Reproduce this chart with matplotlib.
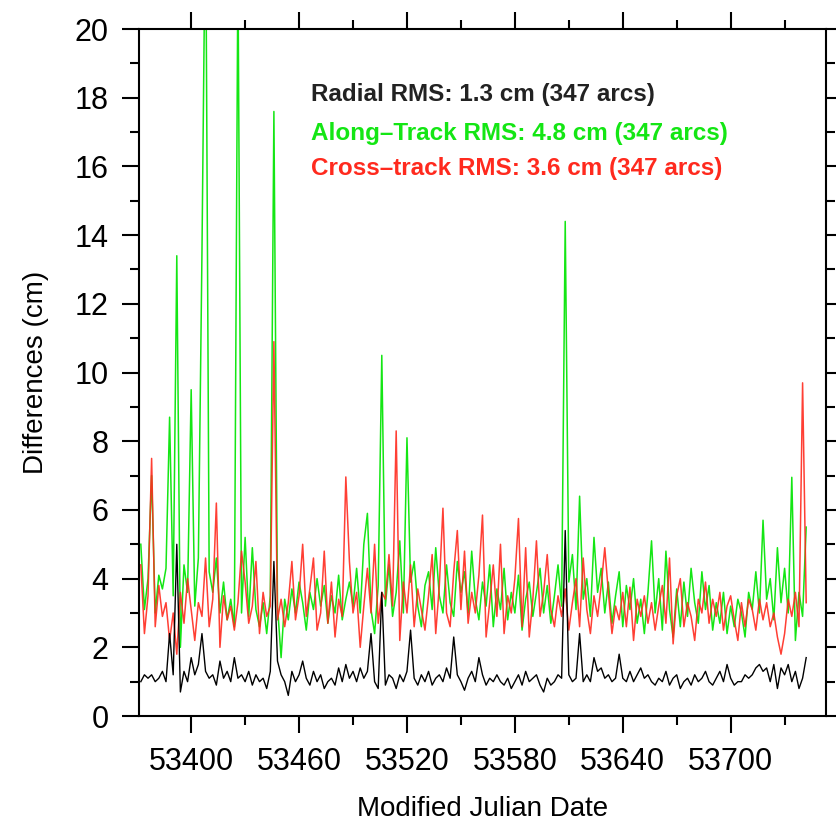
import numpy as np
import matplotlib
matplotlib.use("Agg")
from matplotlib import pyplot as plt
from matplotlib.ticker import MultipleLocator

plt.rcParams['font.family'] = ['Liberation Sans', 'DejaVu Sans']

# one value every 2 days, MJD 53372 ... 53742
mjd = np.arange(53372, 53744, 2)

along = [
    5.0, 3.1, 4.0, 7.0, 3.0, 4.1, 3.7, 4.3, 8.7, 3.5,
    13.4, 2.0, 4.4, 3.6, 9.5, 3.2, 4.6, 13.5, 24.0, 4.2,
    3.6, 4.6, 3.0, 3.9, 2.8, 3.4, 2.6, 22.0, 3.0, 5.2,
    2.9, 4.9, 3.1, 2.6, 3.3, 2.4, 3.5, 17.6, 3.2, 1.7,
    3.4, 2.8, 3.7, 3.0, 3.9, 3.3, 2.5, 3.6, 3.1, 4.0,
    3.2, 3.8, 2.7, 3.5, 3.0, 4.1, 2.8, 3.4, 3.9, 3.2,
    4.3, 3.0, 5.0, 5.9, 3.1, 2.4, 3.8, 10.5, 3.2, 4.4,
    2.9, 3.6, 5.1, 3.0, 8.1, 3.9, 4.5, 3.2, 2.6, 3.8,
    4.2, 3.1, 4.9, 3.5, 3.0, 4.4, 3.3, 2.9, 4.5, 3.6,
    4.2, 3.0, 4.8, 3.4, 2.8, 3.9, 3.2, 4.4, 2.6, 3.7,
    3.1, 4.3, 2.8, 3.6, 3.0, 4.1, 2.5, 3.4, 3.9, 2.9,
    3.6, 4.3, 3.0, 3.8, 2.7, 3.5, 4.4, 3.2, 14.4, 3.9,
    4.7, 3.1, 6.4, 3.4, 4.0, 2.9, 5.2, 3.6, 4.3, 3.0,
    3.9, 2.7, 3.5, 4.2, 2.6, 3.8, 3.1, 4.0, 2.7, 3.4,
    2.4, 3.6, 5.1, 3.0, 4.0, 2.5, 4.8, 3.1, 2.3, 3.7,
    2.6, 3.9, 2.9, 4.3, 3.3, 2.7, 4.2, 3.1, 3.8, 2.5,
    3.3, 2.7, 3.6, 2.4, 3.2, 2.6, 3.4, 3.0, 2.3, 3.6,
    3.1, 4.2, 3.0, 5.7, 3.4, 4.0, 2.8, 4.9, 3.3, 4.3,
    3.0, 6.95, 2.2, 3.6, 2.9, 5.5,
]

cross = [
    4.4, 2.4, 3.5, 7.5, 2.6, 3.8, 2.9, 3.3, 2.2, 3.0,
    1.8, 3.6, 2.7, 4.0, 3.1, 2.2, 3.3, 2.9, 4.6, 2.6,
    3.4, 6.2, 2.0, 3.5, 2.8, 3.2, 2.5, 3.3, 4.8, 3.9,
    2.7, 3.2, 4.5, 2.4, 3.6, 2.9, 3.2, 10.9, 2.8, 3.4,
    2.6, 3.3, 4.5, 2.8, 3.5, 5.0, 2.9, 3.7, 4.6, 2.5,
    3.0, 4.8, 2.7, 3.9, 2.3, 3.4, 2.9, 6.96, 4.5, 3.0,
    3.6, 2.0, 3.2, 4.3, 3.0, 5.0, 2.7, 3.6, 3.4, 4.7,
    3.2, 8.3, 2.2, 3.9, 3.0, 4.4, 2.6, 3.7, 3.1, 2.5,
    3.5, 4.7, 2.4, 3.8, 6.05, 3.0, 2.6, 4.2, 5.4, 3.1,
    4.8, 2.7, 3.6, 3.0, 4.1, 5.85, 2.3, 3.3, 4.4, 2.9,
    5.0, 2.4, 3.5, 3.0, 4.0, 5.75, 2.6, 4.9, 2.3, 3.4,
    5.1, 2.9, 3.6, 4.7, 3.1, 2.6, 3.5, 2.9, 3.7, 2.5,
    3.3, 4.0, 2.6, 4.6, 3.1, 2.4, 3.5, 2.9, 3.8, 4.9,
    3.6, 2.4, 3.2, 2.8, 3.6, 2.6, 3.75, 2.2, 3.4, 2.9,
    3.5, 2.7, 3.3, 2.5, 3.2, 3.8, 2.7, 4.6, 2.1, 3.5,
    4.0, 2.6, 3.3, 2.9, 2.2, 3.4, 3.0, 3.9, 2.7, 3.4,
    2.9, 3.6, 2.5, 3.2, 3.5, 2.8, 2.2, 3.3, 2.6, 3.4,
    3.1, 2.5, 3.4, 2.8, 3.3, 2.6, 3.0, 2.3, 1.8, 2.4,
    3.4, 2.9, 3.6, 2.6, 9.7, 3.3,
]

radial = [
    1.0, 1.2, 1.1, 1.2, 1.0, 1.1, 1.3, 1.0, 2.4, 1.2,
    5.0, 0.7, 1.3, 1.0, 1.7, 1.2, 1.5, 2.4, 1.3, 1.1,
    1.2, 0.9, 1.6, 1.1, 1.3, 1.0, 1.7, 1.1, 1.2, 1.0,
    1.3, 0.9, 1.2, 1.0, 1.1, 0.8, 1.3, 4.5, 1.6, 1.2,
    1.0, 0.6, 1.3, 1.0, 1.2, 1.6, 1.1, 0.9, 1.3, 1.0,
    1.2, 0.8, 1.0, 1.1, 0.9, 1.4, 1.0, 1.5, 1.1, 1.3,
    1.0, 1.4, 1.1, 1.3, 2.4, 1.0, 0.8, 3.6, 0.9, 1.2,
    1.1, 0.8, 1.2, 1.0, 1.3, 2.5, 1.1, 0.9, 1.2, 1.0,
    1.3, 0.9, 1.1, 1.2, 1.0, 1.4, 1.1, 2.3, 1.2, 1.0,
    0.75, 1.1, 1.3, 1.0, 1.7, 1.2, 0.9, 1.1, 1.0, 1.2,
    1.0, 0.9, 1.1, 0.8, 1.0, 1.2, 0.9, 1.3, 1.0, 1.1,
    1.2, 0.9, 0.7, 1.1, 0.9, 1.0, 1.2, 1.1, 5.4, 1.2,
    1.0, 1.1, 2.4, 1.0, 1.2, 1.0, 1.7, 1.3, 1.4, 1.1,
    1.2, 1.0, 1.1, 1.8, 1.1, 1.0, 1.3, 1.0, 1.2, 1.4,
    1.1, 1.2, 1.0, 0.9, 1.1, 1.0, 1.3, 0.9, 1.1, 1.2,
    0.8, 1.0, 1.1, 0.9, 1.2, 1.0, 1.1, 1.3, 1.0, 0.9,
    1.1, 1.3, 1.0, 1.5, 1.1, 0.9, 1.0, 1.0, 1.2, 1.1,
    1.2, 1.4, 1.5, 1.3, 1.4, 1.0, 1.5, 0.8, 1.4, 1.2,
    1.5, 1.0, 1.3, 0.8, 1.1, 1.7,
]

labels = [
    "Radial RMS: 1.3 cm (347 arcs)",
    "Along\u2013Track RMS: 4.8 cm (347 arcs)",
    "Cross\u2013track RMS: 3.6 cm (347 arcs)",
]

GREEN = "#14e614"
RED = "#ff2a1e"

fig = plt.figure(figsize=(8.36, 8.25), dpi=100)
ax = fig.add_axes([0.1663, 0.1321, 0.8217, 0.8327])

ax.plot(mjd, along, color=GREEN, lw=1.1)
ax.plot(mjd, cross, color=RED, lw=1.1, alpha=0.9)
ax.plot(mjd, radial, color="black", lw=1.0)

ax.set_xlim(53371, 53753)
ax.set_ylim(0, 20)
ax.xaxis.set_major_locator(MultipleLocator(60))
ax.xaxis.set_minor_locator(MultipleLocator(30))
ax.yaxis.set_major_locator(MultipleLocator(2))
ax.yaxis.set_minor_locator(MultipleLocator(1))
ax.tick_params(which="both", direction="out", top=True, right=True,
               width=1.5, labelsize=22, pad=10)
ax.tick_params(which="major", length=12)
ax.tick_params(which="minor", length=6.5)
for s in ax.spines.values():
    s.set_linewidth(1.5)

ax.set_xlabel("Modified Julian Date", fontsize=20, labelpad=14)
ax.set_ylabel("Differences (cm)", fontsize=20, labelpad=18)

for txt, col, yy in zip(labels, ["#222222", GREEN, RED], [0.905, 0.848, 0.797]):
    ax.text(0.251, yy, txt, transform=ax.transAxes, color=col,
            fontsize=17.5, fontweight="bold", va="center", ha="left")

fig.savefig("out.png", dpi=100)
